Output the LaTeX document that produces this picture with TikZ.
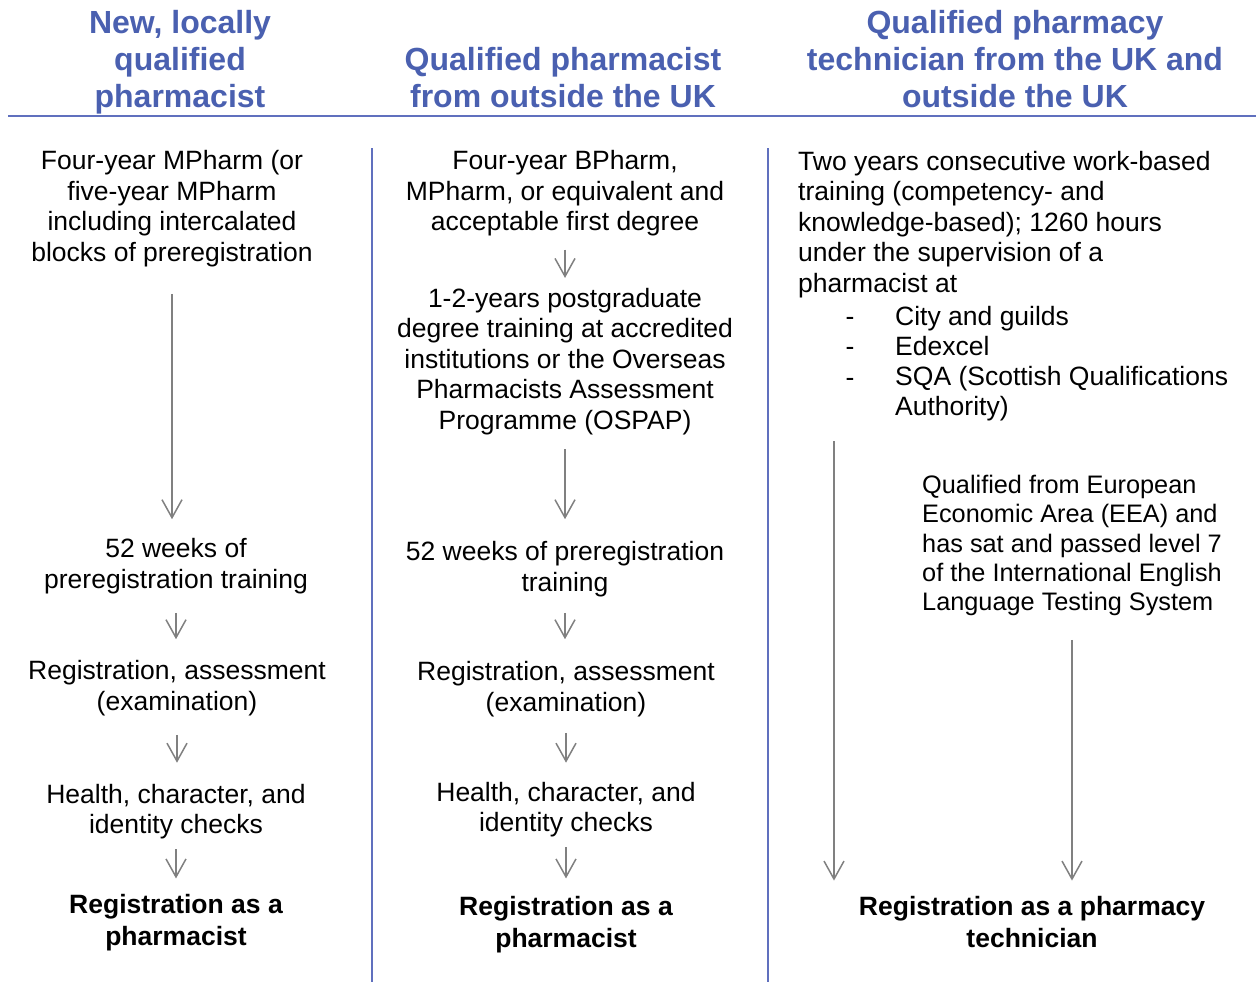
\documentclass[tikz,border=0pt]{standalone}
\usepackage{fontspec}
\setmainfont{Liberation Sans}
\usetikzlibrary{arrows.meta}
\definecolor{headblue}{RGB}{74,96,176}
\definecolor{ruleblue}{RGB}{96,112,190}
\definecolor{arrowgray}{RGB}{128,128,128}
\tikzset{
  head/.style={text=headblue, font=\fontsize{32}{37}\selectfont\bfseries, align=center, inner sep=0pt},
  body/.style={font=\fontsize{26.5}{30.5}\selectfont, align=center, inner sep=0pt},
  goal/.style={font=\fontsize{26.5}{32}\selectfont\bfseries, align=center, inner sep=0pt},
  flow/.style={draw=arrowgray, line width=1.5pt, -{Straight Barb[length=18pt,width=20pt]}},
  divider/.style={draw=ruleblue, line width=2pt}
}
\begin{document}
\begin{tikzpicture}[x=1pt, y=-1pt]
                \useasboundingbox (0,0) rectangle (1256,982);
                % headings
                \node[head] (h1) at (180,62.5) {New, locally\\qualified\\pharmacist};
                \node[head] (h2) at (563,78) {Qualified pharmacist\\from outside the UK};
                \node[head] (h3) at (1015,59.5) {Qualified pharmacy\\technician from the UK and\\outside the UK};
                \draw[divider, line width=2.5pt] (8,116) -- (1256,116);
                \draw[divider] (372,148) -- (372,982);
                \draw[divider] (768,148) -- (768,982);
                % first column
                \node[body] (t1) at (172,208.5) {Four-year MPharm (or\\five-year MPharm\\including intercalated\\blocks of preregistration};
                \node[body] (w1) at (176,566) {52 weeks of\\preregistration training};
                \node[body] (r1) at (177,688) {Registration, assessment\\(examination)};
                \node[body] (k1) at (176,811.5) {Health, character, and\\identity checks};
                \node[goal] (p1) at (176,923) {Registration as a\\pharmacist};
                \draw[flow, shorten <=27pt, shorten >=19pt] (t1.south) -- (t1.south |- w1.north);
                \draw[flow, shorten <=19pt, shorten >=21pt] (w1.south) -- (w1.south |- r1.north);
                \draw[flow, shorten <=19pt, shorten >=21pt] (r1.south) -- (r1.south |- k1.north);
                \draw[flow, shorten <=10pt, shorten >=16pt] (k1.south) -- (k1.south |- p1.north);
                % second column
                \node[body] (t2) at (565,193.5) {Four-year BPharm,\\MPharm, or equivalent and\\acceptable first degree};
                \node[body] (o2) at (565,361.5) {1-2-years postgraduate\\degree training at accredited\\institutions or the Overseas\\Pharmacists Assessment\\Programme (OSPAP)};
                \node[body] (w2) at (565,569) {52 weeks of preregistration\\training};
                \node[body] (r2) at (566,689) {Registration, assessment\\(examination)};
                \node[body] (k2) at (566,809.5) {Health, character, and\\identity checks};
                \node[goal] (p2) at (566,925) {Registration as a\\pharmacist};
                \draw[flow, shorten <=13pt, shorten >=10pt] (t2.south) -- (t2.south |- o2.north);
                \draw[flow, shorten <=14pt, shorten >=22pt] (o2.south) -- (o2.south |- w2.north);
                \draw[flow, shorten <=16pt, shorten >=22pt] (w2.south) -- (w2.south |- r2.north);
                \draw[flow, shorten <=16pt, shorten >=19pt] (r2.south) -- (r2.south |- k2.north);
                \draw[flow, shorten <=10pt, shorten >=18pt] (k2.south) -- (k2.south |- p2.north);
                % third column
                \node[body, align=left, anchor=north west] (q3) at (798,151) {Two years consecutive work-based\\training (competency- and\\knowledge-based); 1260 hours\\under the supervision of a\\pharmacist at};
                \node[body, anchor=base] (d1) at (850,325) {-};
                \node[body, anchor=base] (d2) at (850,355) {-};
                \node[body, anchor=base] (d3) at (850,386) {-};
                \node[body, anchor=base west] (c1) at (895,325) {City and guilds};
                \node[body, anchor=base west] (c2) at (895,355) {Edexcel};
                \node[body, align=left, anchor=north west] (c3) at (895,366) {SQA (Scottish Qualifications\\Authority)};
                \node[body, align=left, anchor=north west, font=\fontsize{25.3}{29.25}\selectfont] (e3) at (922,475) {Qualified from European\\Economic Area (EEA) and\\has sat and passed level 7\\of the International English\\Language Testing System};
                \node[goal] (p3) at (1032,922.5) {Registration as a pharmacy\\technician};
                \coordinate (s3) at (834,441);
                \draw[flow, shorten >=16pt] (s3) -- (s3 |- p3.north);
                \draw[flow, shorten <=24pt, shorten >=16pt] (e3.south) -- (e3.south |- p3.north);
            \end{tikzpicture}
\end{document}
